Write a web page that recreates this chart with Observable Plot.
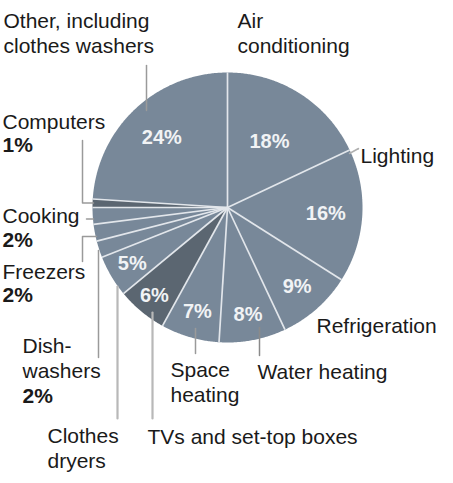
<!DOCTYPE html>
<html><head><meta charset="utf-8">
<script src="https://cdn.jsdelivr.net/npm/d3@7"></script>
<script src="https://cdn.jsdelivr.net/npm/@observablehq/plot@0.6"></script>
<style>body{margin:0;background:#fff}</style>
</head><body><div id="chart"></div>
<script>
// ---- data ----
const categories = ["Air conditioning","Lighting","Refrigeration","Water heating","Space heating","TVs and set-top boxes","Clothes dryers","Dishwashers","Freezers","Cooking","Computers","Other, including clothes washers"];
const values = [18,16,9,8,7,6,5,2,2,2,1,24];
const darkSlices = ["TVs and set-top boxes","Computers"];

// ---- layout ----
const W = 453, H = 483, cx = 227, cy = 207, R = 135;
const pctRadius = {"Air conditioning":0.58,"Lighting":0.73,"Refrigeration":0.78,"Water heating":0.81,"Space heating":0.80,"TVs and set-top boxes":0.85,"Clothes dryers":0.82,"Other, including clothes washers":0.71};
const labels = [
  {text:"Other, including\nclothes washers", x:3, y:52},
  {text:"Air\nconditioning", x:237, y:52},
  {text:"Lighting", x:360, y:162},
  {text:"Refrigeration", x:316, y:332},
  {text:"Water heating", x:257, y:378},
  {text:"Space\nheating", x:170, y:401},
  {text:"TVs and set-top boxes", x:147, y:443},
  {text:"Clothes\ndryers", x:47, y:467},
  {text:"Dish-\nwashers", x:22, y:377},
  {text:"Freezers", x:2, y:278},
  {text:"Cooking", x:2, y:222},
  {text:"Computers", x:2, y:128}
];
const boldLabels = [
  {text:"2%", x:22, y:402},
  {text:"2%", x:2, y:301},
  {text:"2%", x:2, y:246},
  {text:"1%", x:2, y:151}
];
const leaders = [
  {id:"other", pts:[[146,65],[146,110]], c:"#9a9a9a", w:1.5},
  {id:"light", pts:[[349,153],[358,148]], c:"#b0b0b0", w:1.5},
  {id:"comp", pts:[[82,140],[82,202.5],[93,202.5]], c:"#9a9a9a", w:1.5},
  {id:"cook", pts:[[86,218.5],[93,218.5]], c:"#9a9a9a", w:1.5},
  {id:"freez", pts:[[96,236],[82,236],[82,261]], c:"#9a9a9a", w:1.5},
  {id:"dish", pts:[[98,250],[98,357]], c:"#9a9a9a", w:1.5},
  {id:"dry", pts:[[117,286],[117,418]], c:"#b8b8b8", w:2.2},
  {id:"tv", pts:[[152,312],[152,418]], c:"#b8b8b8", w:2.2},
  {id:"space", pts:[[195,328],[195,353]], c:"#9a9a9a", w:1.5},
  {id:"water", pts:[[259,327],[259,355]], c:"#8a8a8a", w:1.5}
];

// ---- geometry from data ----
const total = d3.sum(values);
let acc = 0;
const slices = categories.map((c,i)=>{
  const a0 = acc/total*2*Math.PI; acc += values[i];
  const a1 = acc/total*2*Math.PI;
  return {category:c, value:values[i], a0, a1};
});
const px = (a,r)=>cx + r*Math.sin(a), py = (a,r)=>cy - r*Math.cos(a);
const polyPts = [];
for (const s of slices) {
  const fill = darkSlices.includes(s.category) ? "#5b6671" : "#788899";
  polyPts.push({category:s.category, x:cx, y:cy, fill});
  const n = Math.max(2, Math.ceil((s.a1-s.a0)/(Math.PI/360)));
  for (let k=0;k<=n;k++){ const a = s.a0 + (s.a1-s.a0)*k/n; polyPts.push({category:s.category, x:px(a,R), y:py(a,R), fill}); }
  polyPts.push({category:s.category, x:cx, y:cy, fill});
}
const seps = slices.map(s=>({x1:cx,y1:cy,x2:px(s.a0,R),y2:py(s.a0,R)}));
const pcts = slices.filter(s=>pctRadius[s.category]!=null).map(s=>{
  const a=(s.a0+s.a1)/2, r=R*pctRadius[s.category];
  return {text:s.value+"%", x:px(a,r), y:py(a,r)};
});
const leaderPts = leaders.flatMap(l=>l.pts.map(p=>({id:l.id,x:p[0],y:p[1],c:l.c,w:l.w})));

const font = "'Liberation Sans', Arial, Helvetica, sans-serif";
const chart = Plot.plot({
  width: W, height: H, margin: 0,
  x: {domain:[0,W], range:[0,W], axis:null},
  y: {domain:[0,H], range:[0,H], axis:null},
  style: {fontFamily: font, background:"#fff"},
  marks: [
    Plot.line(polyPts, {x:"x", y:"y", z:"category", fill:"fill", stroke:"none", curve:"linear"}),
    Plot.link(seps, {x1:"x1", y1:"y1", x2:"x2", y2:"y2", stroke:"#e2e6eb", strokeWidth:1.7}),
    ...leaders.map(l=>Plot.line(leaderPts.filter(p=>p.id===l.id), {x:"x", y:"y", stroke:l.c, strokeWidth:l.w})),
    Plot.text(pcts, {x:"x", y:"y", text:"text", fill:"#f1f3f5", fontSize:20, fontWeight:"bold", textAnchor:"middle"}),
    Plot.text(labels, {x:"x", y:"y", text:"text", fill:"#1a1a1a", fontSize:21, textAnchor:"start", lineAnchor:"bottom", lineHeight:1.17}),
    Plot.text(boldLabels, {x:"x", y:"y", text:"text", fill:"#1a1a1a", fontSize:21, fontWeight:"bold", textAnchor:"start", lineAnchor:"bottom"})
  ]
});
document.getElementById("chart").appendChild(chart);
</script>
</body></html>
